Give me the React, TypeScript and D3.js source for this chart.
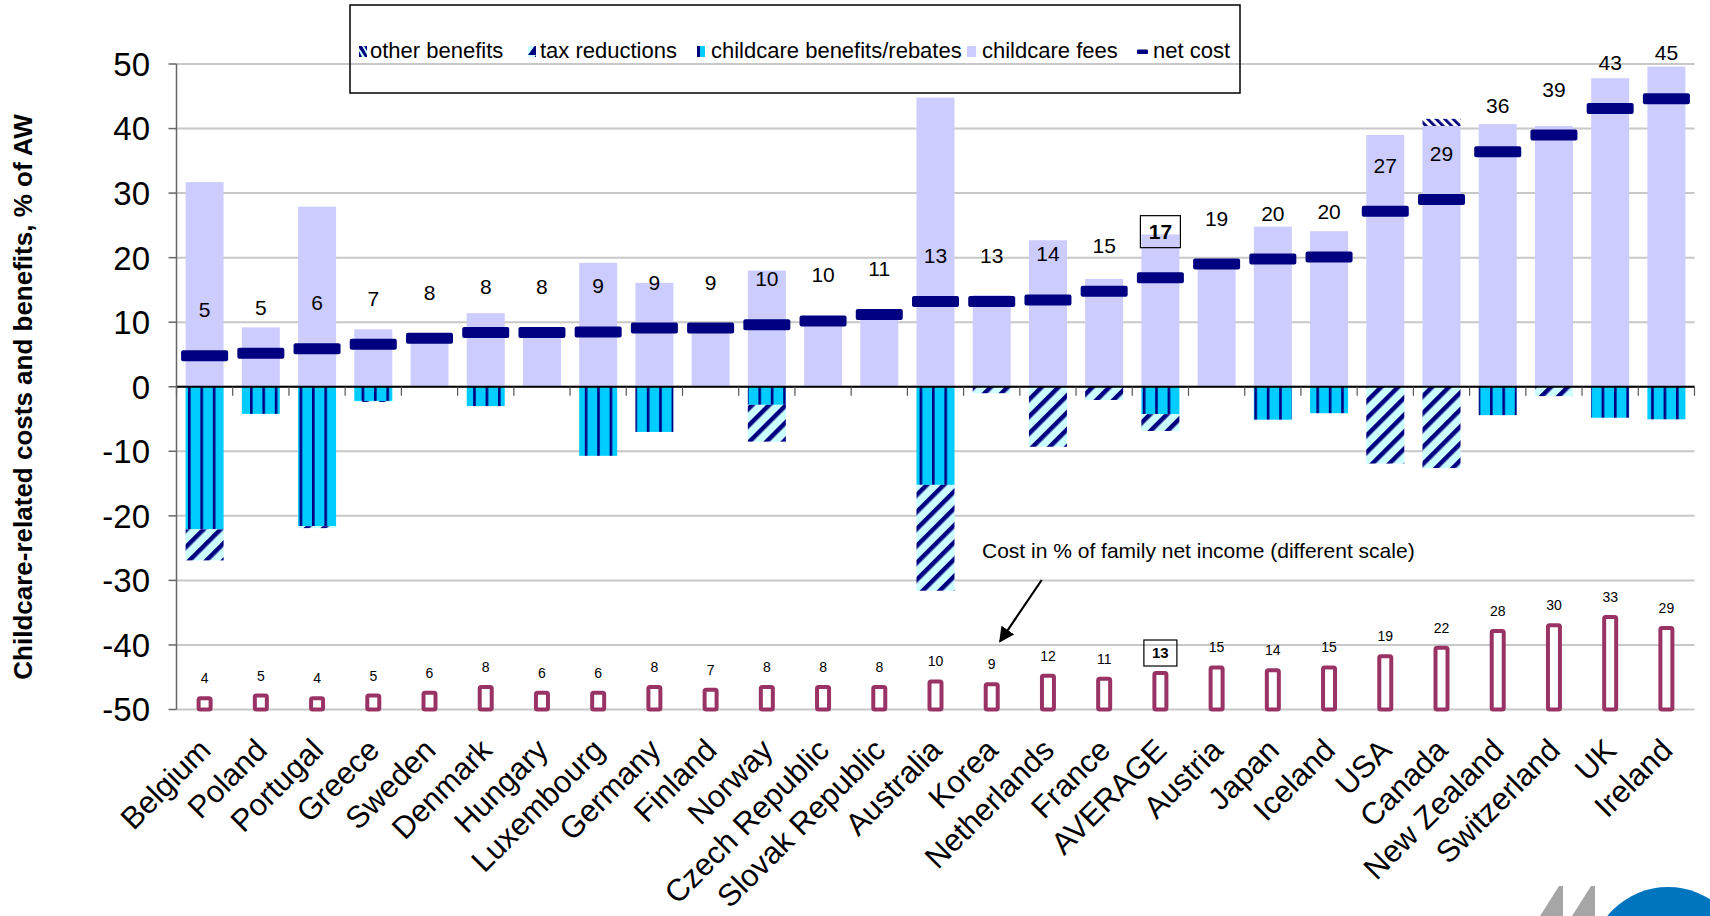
import React from 'react';
import * as d3 from 'd3';

const categories = [
  'Belgium', 'Poland', 'Portugal', 'Greece', 'Sweden', 'Denmark', 'Hungary', 'Luxembourg',
  'Germany', 'Finland', 'Norway', 'Czech Republic', 'Slovak Republic', 'Australia', 'Korea',
  'Netherlands', 'France', 'AVERAGE', 'Austria', 'Japan', 'Iceland', 'USA', 'Canada',
  'New Zealand', 'Switzerland', 'UK', 'Ireland',
];
const childcareFees = [
  31.7, 9.2, 27.9, 8.9, 7.5, 11.4, 8.4, 19.2, 16.1, 9.1, 18.0, 10.2, 11.2, 44.8, 14.2,
  22.7, 16.7, 23.6, 19.0, 24.8, 24.1, 39.0, 40.4, 40.7, 40.4, 47.8, 49.6,
];
const childcareBenefits = [
  -22.1, -4.2, -21.6, -2.2, 0, -3.0, 0, -10.7, -7.0, 0, -2.8, 0, 0, -15.2, 0,
  0, 0, -4.25, 0, -5.1, -4.1, 0, 0, -4.4, 0, -4.8, -5.05,
];
const taxReductions = [
  -4.8, 0, -0.3, -0.15, 0, 0, 0, 0, 0, 0, -5.7, 0, 0, -16.4, -1.0,
  -9.3, -2.05, -2.6, 0, 0, 0, -11.9, -12.6, 0, -1.45, 0, 0,
];
const otherBenefits = [
  0, 0, 0, 0, 0, 0, 0, 0, 0, 0, 0, 0, 0, 0, 0,
  0, 0, 0, 0, 0, 0, 0, 1.1, 0, 0, 0, 0,
];
const netCost = [
  4.8, 5.2, 5.9, 6.6, 7.5, 8.4, 8.4, 8.5, 9.1, 9.1, 9.6, 10.2, 11.2, 13.2, 13.2,
  13.45, 14.8, 16.9, 19.0, 19.8, 20.1, 27.2, 29.0, 36.4, 39.0, 43.1, 44.6,
];
const netCostLabels = [
  5, 5, 6, 7, 8, 8, 8, 9, 9, 9, 10, 10, 11, 13, 13, 14, 15, 17, 19, 20, 20, 27, 29, 36, 39, 43, 45,
];
const costShareOfIncome = [
  4, 5, 4, 5, 6, 8, 6, 6, 8, 7, 8, 8, 8, 10, 9, 12, 11, 13, 15, 14, 15, 19, 22, 28, 30, 33, 29,
];
const yTicks = [-50, -40, -30, -20, -10, 0, 10, 20, 30, 40, 50];

const legendItems = [
  { key: 'other', label: 'other benefits', iconX: 359, textX: 370 },
  { key: 'tax', label: 'tax reductions', iconX: 528, textX: 540 },
  { key: 'ben', label: 'childcare benefits/rebates', iconX: 697, textX: 711 },
  { key: 'fees', label: 'childcare fees', iconX: 967, textX: 982 },
  { key: 'net', label: 'net cost', iconX: 1137, textX: 1153 },
];

const FONT = "'Liberation Sans', Arial, Helvetica, sans-serif";
const NAVY = '#000080';
const LAVENDER = '#CCCCFF';
const CYAN = '#00CCFF';
const LIGHTCYAN = '#CCFFFF';
const PLUM = '#993366';
const GRID = '#C8C8C8';

export default function App() {
  const W = 1710;
  const H = 916;
  const x = d3.scaleBand<string>().domain(categories).range([176.5, 1694.5]).padding(0);
  const y = d3.scaleLinear().domain([-50, 50]).range([709.5, 64]);
  const y2 = d3.scaleLinear().domain([0, 230]).range([709.5, 64]);
  const bw = x.bandwidth();
  const barW = 38;
  const markW = 47;
  const markH = 11;
  const smallW = 12;
  const cx = (c: string) => (x(c) as number) + bw / 2;
  const x0 = 176.5;
  const x1 = 1694.5;

  return (
    <div style={{ position: 'fixed', left: 0, top: 0 }}>
      <svg width={W} height={H} viewBox={`0 0 ${W} ${H}`} style={{ display: 'block', background: '#fff' }}>
        <defs>
          <pattern id="pBen" patternUnits="userSpaceOnUse" width={12.4} height={10} x={2}>
            <rect width={12.4} height={10} fill={CYAN} />
            <rect x={0} width={2.6} height={10} fill={NAVY} />
          </pattern>
          <pattern id="pTax" patternUnits="userSpaceOnUse" width={12} height={12} patternTransform="rotate(45)">
            <rect width={12} height={12} fill={LIGHTCYAN} />
            <rect x={0} width={4.5} height={12} fill={NAVY} />
          </pattern>
          <pattern id="pOther" patternUnits="userSpaceOnUse" width={6} height={6} patternTransform="rotate(-45)">
            <rect width={6} height={6} fill="#FFFFFF" />
            <rect x={0} width={2.8} height={6} fill={NAVY} />
          </pattern>
          <pattern id="pTaxIcon" patternUnits="userSpaceOnUse" width={8} height={11}>
            <rect width={8} height={11} fill={LIGHTCYAN} />
            <polygon points="8,0 8,11 0,11" fill={NAVY} />
          </pattern>
          <marker id="arrowHead" viewBox="0 0 10 10" refX={9} refY={5} markerWidth={7} markerHeight={7} orient="auto-start-reverse">
            <path d="M0,0 L10,5 L0,10 z" fill="#000" />
          </marker>
        </defs>

        {/* gridlines */}
        <g>
          {yTicks.map((t) => (
            <line key={t} x1={x0} x2={x1} y1={y(t)} y2={y(t)} stroke={GRID} strokeWidth={2} />
          ))}
        </g>

        {/* childcare fees */}
        <g>
          {categories.map((c, i) => (
            <rect key={c} x={cx(c) - barW / 2} width={barW} y={y(childcareFees[i])} height={y(0) - y(childcareFees[i])} fill={LAVENDER} />
          ))}
        </g>
        {/* other benefits (positive, stacked on fees) */}
        <g>
          {categories.map((c, i) =>
            otherBenefits[i] > 0 ? (
              <rect key={c} x={cx(c) - barW / 2} width={barW}
                y={y(childcareFees[i] + otherBenefits[i])}
                height={y(childcareFees[i]) - y(childcareFees[i] + otherBenefits[i])}
                fill="url(#pOther)" />
            ) : null
          )}
        </g>
        {/* childcare benefits */}
        <g>
          {categories.map((c, i) =>
            childcareBenefits[i] < 0 ? (
              <rect key={c} x={cx(c) - barW / 2} width={barW} y={y(0)} height={y(childcareBenefits[i]) - y(0)} fill="url(#pBen)" />
            ) : null
          )}
        </g>
        {/* tax reductions */}
        <g>
          {categories.map((c, i) =>
            taxReductions[i] < 0 ? (
              <rect key={c} x={cx(c) - barW / 2} width={barW}
                y={y(childcareBenefits[i])}
                height={y(childcareBenefits[i] + taxReductions[i]) - y(childcareBenefits[i])}
                fill="url(#pTax)" />
            ) : null
          )}
        </g>

        {/* zero axis with ticks */}
        <line x1={x0} x2={x1} y1={y(0)} y2={y(0)} stroke="#000" strokeWidth={2} />
        <g>
          {categories.map((c) => (
            <line key={c} x1={x(c) as number} x2={x(c) as number} y1={y(0)} y2={y(0) + 9} stroke="#555" strokeWidth={1.2} />
          ))}
          <line x1={x1} x2={x1} y1={y(0)} y2={y(0) + 9} stroke="#555" strokeWidth={1.2} />
        </g>

        {/* y axis */}
        <line x1={x0} x2={x0} y1={y(50)} y2={y(-50)} stroke="#666" strokeWidth={1.5} />
        <g>
          {yTicks.map((t) => (
            <g key={t}>
              <line x1={x0 - 8} x2={x0} y1={y(t)} y2={y(t)} stroke="#666" strokeWidth={1.5} />
              <text x={150} y={y(t)} dy="0.36em" textAnchor="end" fontFamily={FONT} fontSize={33} fill="#000">{t}</text>
            </g>
          ))}
        </g>
        <text transform="translate(32,397) rotate(-90)" textAnchor="middle" fontFamily={FONT}
          fontSize={26} fontWeight="bold" fill="#000">Childcare-related costs and benefits, % of AW</text>

        {/* net cost markers */}
        <g>
          {categories.map((c, i) => (
            <rect key={c} x={cx(c) - markW / 2} width={markW} y={y(netCost[i]) - markH / 2} height={markH} rx={2} fill={NAVY} />
          ))}
        </g>
        {/* net cost labels */}
        <g>
          {categories.map((c, i) => {
            const ly = y(netCost[i]) - 46;
            const isAvg = c === 'AVERAGE';
            return (
              <g key={c}>
                {isAvg && <rect x={cx(c) - 20} y={ly - 16} width={40} height={32} fill="none" stroke="#000" strokeWidth={1.2} />}
                <text x={cx(c)} y={ly} dy="0.36em" textAnchor="middle" fontFamily={FONT} fontSize={21}
                  fontWeight={isAvg ? 'bold' : 'normal'} fill="#000">{netCostLabels[i]}</text>
              </g>
            );
          })}
        </g>

        {/* cost in % of family net income */}
        <g>
          {categories.map((c, i) => (
            <rect key={c} x={cx(c) - smallW / 2} width={smallW} y={y2(costShareOfIncome[i])}
              height={y2(0) - y2(costShareOfIncome[i])} rx={1.5} fill="#fff" stroke={PLUM} strokeWidth={4} />
          ))}
        </g>
        <g>
          {categories.map((c, i) => {
            const ly = y2(costShareOfIncome[i]) - 20;
            const isAvg = c === 'AVERAGE';
            return (
              <g key={c}>
                {isAvg && <rect x={cx(c) - 16.5} y={ly - 13} width={33} height={26} fill="none" stroke="#000" strokeWidth={1.2} />}
                <text x={cx(c)} y={ly} dy="0.36em" textAnchor="middle" fontFamily={FONT} fontSize={isAvg ? 15 : 14}
                  fontWeight={isAvg ? 'bold' : 'normal'} fill="#000">{costShareOfIncome[i]}</text>
              </g>
            );
          })}
        </g>

        {/* annotation */}
        <text x={982} y={558} fontFamily={FONT} fontSize={21} fill="#000">Cost in % of family net income (different scale)</text>
        <line x1={1041.7} y1={580} x2={1000} y2={641.5} stroke="#000" strokeWidth={2.2} markerEnd="url(#arrowHead)" />

        {/* category labels */}
        <g>
          {categories.map((c) => (
            <text key={c} transform={`translate(${cx(c) + 8},752) rotate(-45)`} textAnchor="end" fontFamily={FONT}
              fontSize={31} fill="#000">{c}</text>
          ))}
        </g>

        {/* legend */}
        <rect x={350} y={5} width={890} height={88} fill="none" stroke="#000" strokeWidth={1.5} />
        <g>
          {legendItems.map((it) => (
            <g key={it.key}>
              {it.key === 'other' && (
                <g>
                  <rect x={it.iconX} y={46} width={8} height={11} fill={LIGHTCYAN} />
                  <polygon points={`${it.iconX},46 ${it.iconX + 3},46 ${it.iconX + 8},55 ${it.iconX + 8},57 ${it.iconX + 6},57 ${it.iconX},48`} fill={NAVY} />
                  <polygon points={`${it.iconX},51 ${it.iconX + 3},57 ${it.iconX},57`} fill={NAVY} />
                  <polygon points={`${it.iconX + 5},46 ${it.iconX + 8},46 ${it.iconX + 8},51`} fill={NAVY} />
                </g>
              )}
              {it.key === 'tax' && <rect x={it.iconX} y={46} width={8} height={11} fill="url(#pTaxIcon)" />}
              {it.key === 'ben' && (
                <g>
                  <rect x={it.iconX} y={46} width={8} height={11} fill={CYAN} />
                  <rect x={it.iconX} y={46} width={3} height={11} fill={NAVY} />
                </g>
              )}
              {it.key === 'fees' && <rect x={it.iconX} y={46} width={9} height={11} fill={LAVENDER} />}
              {it.key === 'net' && <rect x={it.iconX} y={49.5} width={11} height={4.5} rx={1} fill={NAVY} />}
              <text x={it.textX} y={58} fontFamily={FONT} fontSize={22} fill="#000">{it.label}</text>
            </g>
          ))}
        </g>

        {/* logo fragment */}
        <g>
          <polygon points="1540,916 1559,886 1563,886 1563,916" fill="#A6A6A6" />
          <polygon points="1572,916 1591,886 1595,886 1595,916" fill="#A6A6A6" />
          <circle cx={1668} cy={965} r={78} fill="#0075BF" />
        </g>
      </svg>
    </div>
  );
}
